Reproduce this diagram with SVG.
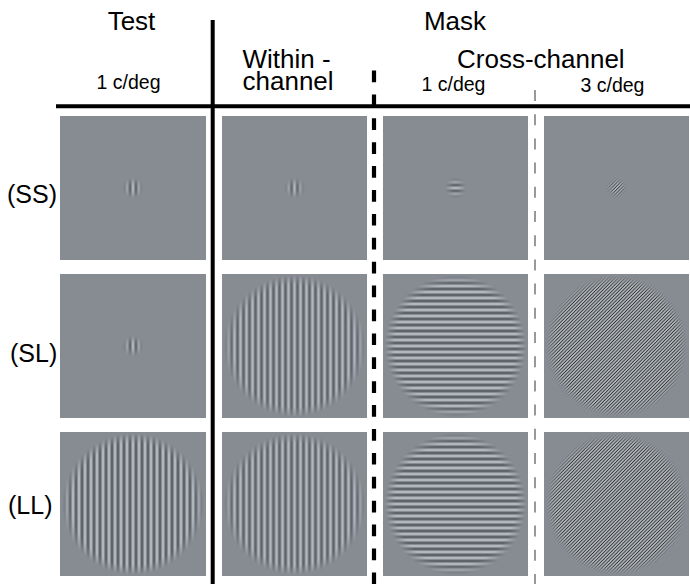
<svg xmlns="http://www.w3.org/2000/svg" width="690" height="584" viewBox="0 0 690 584">
<style>
text{font-family:"Liberation Sans",Arial,Helvetica,sans-serif;fill:#000}
.big{font-size:26px}
.lbl{font-size:25px}
.sm{font-size:19.5px}
.cell{fill:#878b92}
</style>
<defs>
<linearGradient id="gv" x1="0" y1="0" x2="1" y2="0">
<stop offset="0" stop-color="#c5cbd5"/><stop offset="0.25" stop-color="#888c93"/><stop offset="0.5" stop-color="#4a5054"/><stop offset="0.75" stop-color="#888c93"/><stop offset="1" stop-color="#c5cbd5"/>
</linearGradient>
<linearGradient id="gh" x1="0" y1="0" x2="0" y2="1">
<stop offset="0" stop-color="#c5cbd5"/><stop offset="0.25" stop-color="#888c93"/><stop offset="0.5" stop-color="#4a5054"/><stop offset="0.75" stop-color="#888c93"/><stop offset="1" stop-color="#c5cbd5"/>
</linearGradient>
<linearGradient id="gd" x1="0" y1="0" x2="1" y2="0">
<stop offset="0" stop-color="#eef1f5"/><stop offset="0.5" stop-color="#2e3336"/><stop offset="1" stop-color="#eef1f5"/>
</linearGradient>
<pattern id="pv" patternUnits="userSpaceOnUse" x="0" y="0" width="6" height="6"><rect width="6" height="6" fill="url(#gv)"/></pattern>
<pattern id="ph" patternUnits="userSpaceOnUse" x="0" y="0" width="6" height="6"><rect width="6" height="6" fill="url(#gh)"/></pattern>
<pattern id="pd" patternUnits="userSpaceOnUse" x="0" y="0" width="2.4" height="6" patternTransform="rotate(45)"><rect width="2.4" height="6" fill="url(#gd)"/></pattern>
<radialGradient id="rgBig">
<stop offset="0" stop-color="#fff"/><stop offset="0.86" stop-color="#fff"/><stop offset="1" stop-color="#000"/>
</radialGradient>
<radialGradient id="rgSmall">
<stop offset="0" stop-color="#fff"/><stop offset="0.35" stop-color="#d0d0d0"/><stop offset="0.7" stop-color="#404040"/><stop offset="1" stop-color="#000"/>
</radialGradient>
<mask id="mBig" maskContentUnits="userSpaceOnUse" x="-80" y="-80" width="160" height="160" maskUnits="userSpaceOnUse"><circle r="71" fill="url(#rgBig)"/></mask>
<mask id="mSmall" maskContentUnits="userSpaceOnUse" x="-20" y="-20" width="40" height="40" maskUnits="userSpaceOnUse"><circle r="11" fill="url(#rgSmall)"/></mask>
</defs>

<g id="headers">
<text class="big" x="131.5" y="30" text-anchor="middle">Test</text>
<text class="big" x="455" y="30" text-anchor="middle">Mask</text>
<text class="big" x="242.5" y="68">Within -<tspan x="242.5" y="90">channel</tspan></text>
<text class="big" x="457" y="68">Cross-channel</text>
<text class="sm" x="128.5" y="89" text-anchor="middle">1 c/deg</text>
<text class="sm" x="421.5" y="91">1 c/deg</text>
<text class="sm" x="580.5" y="91.5">3 c/deg</text>
</g>

<g id="row-labels">
<text class="lbl" x="7" y="203">(SS)</text>
<text class="lbl" x="10" y="362">(SL)</text>
<text class="lbl" x="8" y="514">(LL)</text>
</g>

<g id="lines">
<line x1="56" y1="106.3" x2="690" y2="106.3" stroke="#000" stroke-width="4"/>
<line x1="212.7" y1="20" x2="212.7" y2="584" stroke="#000" stroke-width="4"/>
<line x1="374" y1="70.5" x2="374" y2="584" stroke="#000" stroke-width="4.2" stroke-dasharray="11.7 12.2"/>
<line x1="535" y1="90" x2="535" y2="584" stroke="#555" stroke-width="1.2" stroke-dasharray="11 13.2"/>
</g>

<g id="cell-SS-test">
<rect class="cell" x="60" y="116" width="146" height="144"/>
<g transform="translate(133,188)"><circle r="14" fill="url(#pv)" mask="url(#mSmall)"/></g>
</g>
<g id="cell-SS-within">
<rect class="cell" x="222" y="116" width="145" height="144"/>
<g transform="translate(294.5,188)"><circle r="14" fill="url(#pv)" mask="url(#mSmall)"/></g>
</g>
<g id="cell-SS-cross1">
<rect class="cell" x="383" y="116" width="145" height="144"/>
<g transform="translate(455.5,188)"><circle r="14" fill="url(#ph)" mask="url(#mSmall)"/></g>
</g>
<g id="cell-SS-cross3">
<rect class="cell" x="544" y="116" width="145" height="144"/>
<g transform="translate(616.5,188)"><circle r="14" fill="url(#pd)" mask="url(#mSmall)"/></g>
</g>

<g id="cell-SL-test">
<rect class="cell" x="60" y="274" width="146" height="144"/>
<g transform="translate(133,346)"><circle r="14" fill="url(#pv)" mask="url(#mSmall)"/></g>
</g>
<g id="cell-SL-within">
<rect class="cell" x="222" y="274" width="145" height="144"/>
<g transform="translate(294.5,346)"><circle r="72" fill="url(#pv)" mask="url(#mBig)"/></g>
</g>
<g id="cell-SL-cross1">
<rect class="cell" x="383" y="274" width="145" height="144"/>
<g transform="translate(455.5,346)"><circle r="72" fill="url(#ph)" mask="url(#mBig)"/></g>
</g>
<g id="cell-SL-cross3">
<rect class="cell" x="544" y="274" width="145" height="144"/>
<g transform="translate(616.5,346)"><circle r="72" fill="url(#pd)" mask="url(#mBig)"/></g>
</g>

<g id="cell-LL-test">
<rect class="cell" x="60" y="432" width="146" height="144"/>
<g transform="translate(133,504)"><circle r="72" fill="url(#pv)" mask="url(#mBig)"/></g>
</g>
<g id="cell-LL-within">
<rect class="cell" x="222" y="432" width="145" height="144"/>
<g transform="translate(294.5,504)"><circle r="72" fill="url(#pv)" mask="url(#mBig)"/></g>
</g>
<g id="cell-LL-cross1">
<rect class="cell" x="383" y="432" width="145" height="144"/>
<g transform="translate(455.5,504)"><circle r="72" fill="url(#ph)" mask="url(#mBig)"/></g>
</g>
<g id="cell-LL-cross3">
<rect class="cell" x="544" y="432" width="145" height="144"/>
<g transform="translate(616.5,504)"><circle r="72" fill="url(#pd)" mask="url(#mBig)"/></g>
</g>
</svg>
